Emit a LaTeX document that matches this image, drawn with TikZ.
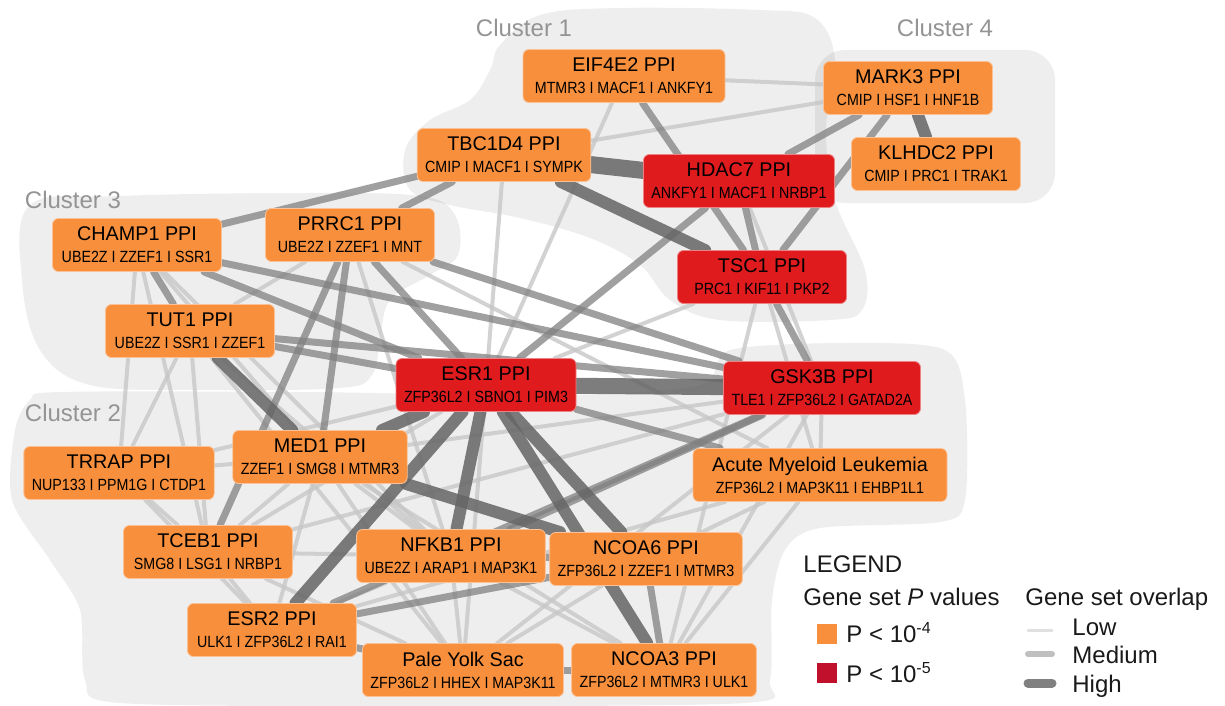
\documentclass[tikz,border=0pt]{standalone}
\usepackage{fontspec}
\setmainfont{Liberation Sans}
\newfontfamily\subfnt[FakeStretch=0.88]{Liberation Sans}

\definecolor{pvorange}{RGB}{247,143,60}
\definecolor{pvred}{RGB}{224,27,30}
\definecolor{pvdark}{RGB}{193,16,43}

\pgfdeclarelayer{blobs}
\pgfdeclarelayer{links}
\pgfsetlayers{blobs,links,main}

% two-line gene set label: title, then the top genes
\newcommand\gset[2]{#1\\{\subfnt\fontsize{8.1}{11}\selectfont #2}}

\tikzset{
	gene/.style={rectangle, rounded corners=3pt, fill=pvorange, draw=pvorange!55!white,
		line width=0.4pt, minimum width=84.5pt, minimum height=26.5pt,
		inner xsep=4pt, inner ysep=0pt, align=center, text=black,
		font=\fontsize{9.9}{11}\selectfont},
	hit/.style={gene, fill=pvred, draw=pvred!55!white},
	lo/.style={line width=2pt, draw=black!22, draw opacity=.8, line cap=round},
	mid/.style={line width=3.5pt, draw=black!50, draw opacity=.75, line cap=round},
	hi/.style={line width=6pt, draw=black!60, draw opacity=.85, line cap=round},
	blob/.style={fill=black, fill opacity=.065},
	clabel/.style={text=black!42, font=\fontsize{12}{14}\selectfont},
	legend/.style={inner sep=0pt, anchor=base west, text=black!90, font=\fontsize{12}{14}\selectfont},
	swatch/.style={minimum size=10pt, inner sep=0pt}
}

\begin{document}
\begin{tikzpicture}[x=0.5pt, y=-0.5pt]
	\useasboundingbox (0,0) rectangle (1225,706);
	%cluster 1
	\node[gene, minimum width=101pt] (eif) at (624,76) {\gset{EIF4E2 PPI}{MTMR3 I MACF1 I ANKFY1}};
	\node[gene] (tbc) at (504,155) {\gset{TBC1D4 PPI}{CMIP I MACF1 I SYMPK}};
	\node[hit, minimum width=93.5pt] (hda) at (739,181) {\gset{HDAC7 PPI}{ANKFY1 I MACF1 I NRBP1}};
	\node[hit] (tsc) at (762,277) {\gset{TSC1 PPI}{PRC1 I KIF11 I PKP2}};
	%cluster 4
	\node[gene] (mrk) at (908,88) {\gset{MARK3 PPI}{CMIP I HSF1 I HNF1B}};
	\node[gene] (klh) at (936,164) {\gset{KLHDC2 PPI}{CMIP I PRC1 I TRAK1}};
	%cluster 3
	\node[gene] (cha) at (137,245) {\gset{CHAMP1 PPI}{UBE2Z I ZZEF1 I SSR1}};
	\node[gene] (prr) at (350,235) {\gset{PRRC1 PPI}{UBE2Z I ZZEF1 I MNT}};
	\node[gene] (tut) at (190,331) {\gset{TUT1 PPI}{UBE2Z I SSR1 I ZZEF1}};
	%cluster 2
	\node[hit, minimum width=89pt] (esr1) at (486,385) {\gset{ESR1 PPI}{ZFP36L2 I SBNO1 I PIM3}};
	\node[hit, minimum width=96pt] (gsk) at (822,388) {\gset{GSK3B PPI}{TLE1 I ZFP36L2 I GATAD2A}};
	\node[gene, minimum width=127pt] (aml) at (820,475) {\gset{Acute Myeloid Leukemia}{ZFP36L2 I MAP3K11 I EHBP1L1}};
	\node[gene, minimum width=92pt] (trr) at (119,473) {\gset{TRRAP PPI}{NUP133 I PPM1G I CTDP1}};
	\node[gene] (med) at (320,457) {\gset{MED1 PPI}{ZZEF1 I SMG8 I MTMR3}};
	\node[gene] (tce) at (208,552) {\gset{TCEB1 PPI}{SMG8 I LSG1 I NRBP1}};
	\node[gene, minimum width=93.5pt] (nfk) at (451,556) {\gset{NFKB1 PPI}{UBE2Z I ARAP1 I MAP3K1}};
	\node[gene, minimum width=95pt] (nco6) at (646,559) {\gset{NCOA6 PPI}{ZFP36L2 I ZZEF1 I MTMR3}};
	\node[gene] (esr2) at (272,630) {\gset{ESR2 PPI}{ULK1 I ZFP36L2 I RAI1}};
	\node[gene, minimum width=98pt] (pys) at (463,670) {\gset{Pale Yolk Sac}{ZFP36L2 I HHEX I MAP3K11}};
	\node[gene, minimum width=89pt] (nco3) at (664,670) {\gset{NCOA3 PPI}{ZFP36L2 I MTMR3 I ULK1}};

	%overlap links
	\begin{pgfonlayer}{links}
		\foreach \a/\b in {eif/mrk, tbc/mrk, eif/esr1, tbc/esr1, prr/tut, prr/nfk, prr/aml,
			esr1/tsc, hda/gsk, tsc/aml, gsk/aml, aml/esr2, aml/nco3, aml/nco6, tsc/nco3,
			cha/trr, cha/tce, cha/med, tut/trr, tut/tce, tut/nfk, trr/med, trr/tce, trr/esr2,
			tce/med, tce/esr2, tce/nfk, med/esr2, med/nfk, med/pys, tce/pys, nfk/pys,
			nfk/nco3, pys/nco6, esr2/nfk, gsk/nco3, gsk/pys, esr1/pys, esr1/tce, esr1/trr,
			gsk/med, gsk/tce, med/nco3, tut/pys, cha/nfk}
		\draw[lo] (\a) -- (\b);
		\foreach \a/\b in {prr/esr1, cha/esr1, cha/gsk, prr/gsk, tut/gsk, tut/esr1, cha/tut,
			eif/tsc, hda/tsc, tsc/gsk, hda/mrk, mrk/tsc, hda/esr1, esr1/aml, gsk/nfk,
			esr2/gsk, esr2/nco6, nco6/nco3, pys/nco3, nfk/nco6, esr2/pys, prr/med, prr/tce,
			cha/tbc, tbc/prr}
		\draw[mid] (\a) -- (\b);
		\foreach \a/\b in {mrk/klh, esr1/esr2, esr1/nfk, esr1/nco6, esr1/med, tut/med,
			med/nco6, esr1/nco3, tbc/tsc}
		\draw[hi] (\a) -- (\b);
		\draw[hi, line width=8.5pt] (tbc) -- (hda);
		\draw[hi, line width=8pt] (esr1) -- (gsk);
	\end{pgfonlayer}

	%clusters
	\begin{pgfonlayer}{blobs}
		\fill[blob] plot[smooth cycle, tension=.6] coordinates{(500,45) (540,15) (620,8)
			(760,10) (815,18) (835,60) (826,130) (835,200) (865,270) (862,310) (830,320)
			(720,320) (670,300) (640,265) (590,238) (520,218) (450,205) (410,190) (405,150)
			(430,120) (470,100) (490,70)};
		\fill[blob, rounded corners=15pt] (815,50) rectangle (1055,203);
		\fill[blob] plot[smooth cycle, tension=.6] coordinates{(30,205) (120,196) (300,193)
			(420,196) (455,215) (458,255) (430,275) (390,300) (380,340) (372,375) (340,388)
			(200,390) (90,385) (40,350) (22,280)};
		\fill[blob] plot[smooth cycle, tension=.5] coordinates{(60,392) (300,392) (560,395)
			(700,385) (730,350) (850,343) (945,350) (965,400) (965,500) (940,522) (820,528)
			(785,550) (772,600) (770,680) (745,703) (400,706) (120,703) (85,680) (80,610)
			(50,560) (12,500) (15,430) (30,400)};
	\end{pgfonlayer}
	\node[clabel] (c1) at (524,28) {Cluster 1};
	\node[clabel] (c2) at (73,413) {Cluster 2};
	\node[clabel] (c3) at (73,200) {Cluster 3};
	\node[clabel] (c4) at (945,28) {Cluster 4};

	%legend
	\node[legend] (lgd) at (803,572) {LEGEND};
	\node[legend] (pvals) at (803,605) {Gene set \textit{P} values};
	\node[legend] (ovl) at (1025,605) {Gene set overlap};
	\node[swatch, fill=pvorange] (sw4) at (827,634) {};
	\node[swatch, fill=pvdark] (sw5) at (827,673) {};
	\node[legend] (p4) at (846,642) {P < 10\textsuperscript{-4}};
	\node[legend] (p5) at (846,682) {P < 10\textsuperscript{-5}};
	\draw[line width=1.5pt, draw=black!12, line cap=round] (1028,630) -- (1052,630);
	\draw[line width=3pt, draw=black!25, line cap=round] (1028,654) -- (1052,654);
	\draw[line width=4.5pt, draw=black!50, line cap=round] (1028,683) -- (1052,683);
	\node[legend] (llo) at (1072,635) {Low};
	\node[legend] (lmid) at (1072,663) {Medium};
	\node[legend] (lhi) at (1072,692) {High};
\end{tikzpicture}
\end{document}
